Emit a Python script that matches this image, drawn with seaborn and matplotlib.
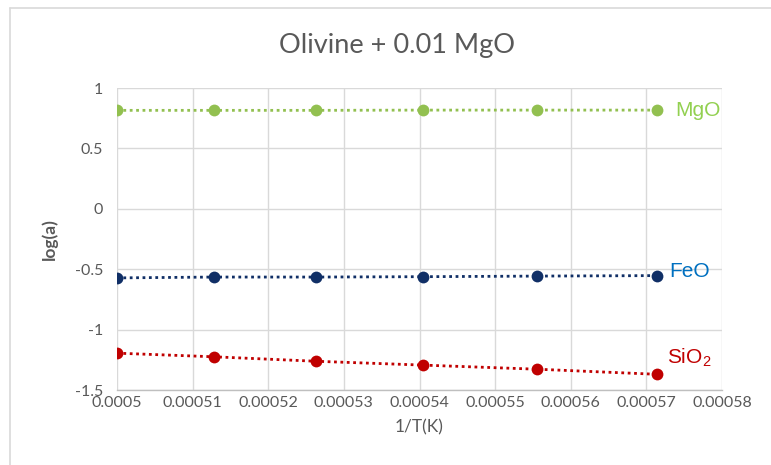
import matplotlib
matplotlib.use("Agg")
import matplotlib.pyplot as plt
import matplotlib.lines as mlines
import numpy as np
import pandas as pd
import seaborn as sns

# Inverse temperature (1/K) for 2000, 1950, 1900, 1850, 1800, 1750 K
inv_T = [0.0005, 0.0005128, 0.0005263, 0.0005405, 0.0005556, 0.0005714]

# log activities of the oxide components
mgo = [0.815, 0.815, 0.815, 0.817, 0.817, 0.817]
feo = [-0.572, -0.565, -0.565, -0.562, -0.557, -0.553]
sio2 = [-1.195, -1.225, -1.262, -1.294, -1.328, -1.370]

species = ["MgO", "FeO", "SiO2"]
series = {"MgO": mgo, "FeO": feo, "SiO2": sio2}
marker_colors = {"MgO": "#92C050", "FeO": "#102F66", "SiO2": "#C00000"}
label_colors = {"MgO": "#92D050", "FeO": "#0070C0", "SiO2": "#C00000"}
label_text = {"MgO": "MgO", "FeO": "FeO", "SiO2": r"SiO$_{\mathregular{2}}$"}
label_offsets = {"MgO": (13, 0), "FeO": (9, 3), "SiO2": (7, 12)}

x_ticks = [0.0005, 0.00051, 0.00052, 0.00053, 0.00054, 0.00055, 0.00056, 0.00057, 0.00058]
x_tick_labels = ["0.0005", "0.00051", "0.00052", "0.00053", "0.00054",
                 "0.00055", "0.00056", "0.00057", "0.00058"]
y_ticks = [-1.5, -1, -0.5, 0, 0.5, 1]
y_tick_labels = ["-1.5", "-1", "-0.5", "0", "0.5", "1"]

df = pd.DataFrame(
    [(x, v, s) for s in species for x, v in zip(inv_T, series[s])],
    columns=["invT", "loga", "species"],
)

sns.set_theme(style="whitegrid")
plt.rcParams["font.family"] = ["Lato", "DejaVu Sans"]
plt.rcParams["mathtext.fontset"] = "custom"
plt.rcParams["mathtext.rm"] = "Liberation Sans"

grey_text = "#595959"
grid_col = "#D9D9D9"

fig = plt.figure(figsize=(7.71, 4.65), dpi=100)
ax = fig.add_axes([117 / 771, 1 - 390 / 465, (722 - 117) / 771, (390 - 88) / 465])

for s in species:
    sns.lineplot(
        data=df[df["species"] == s], x="invT", y="loga", ax=ax,
        color=marker_colors[s], linestyle=(0, (1, 1.3)), linewidth=2.0,
        marker="o", markersize=8.5, markeredgewidth=0, markeredgecolor=marker_colors[s],
        errorbar=None, legend=False,
    )
    ax.annotate(
        label_text[s], xy=(inv_T[-1], series[s][-1]),
        xytext=label_offsets[s], textcoords="offset points",
        ha="left", va="center", fontsize=15, color=label_colors[s],
        family=["Liberation Sans", "DejaVu Sans"],
    )

ax.set_xlim(0.0005, 0.00058)
ax.set_ylim(-1.5, 1)
ax.set_xticks(x_ticks)
ax.set_xticklabels(x_tick_labels)
ax.set_yticks(y_ticks)
ax.set_yticklabels(y_tick_labels)
ax.tick_params(axis="both", labelsize=11.5, colors=grey_text, length=0)
ax.tick_params(axis="x", pad=4)
ax.tick_params(axis="y", pad=10)
ax.grid(True, color=grid_col, linewidth=1)
for sp in ax.spines.values():
    sp.set_visible(False)
ax.spines["bottom"].set_visible(True)
ax.spines["bottom"].set_color("#BFBFBF")
ax.spines["bottom"].set_linewidth(1)
ax.set_facecolor("white")

ax.set_xlabel("1/T(K)", fontsize=12.5, color=grey_text, labelpad=7)
ax.set_ylabel("log(a)", fontsize=12.5, color=grey_text, labelpad=12, fontweight="bold")

fig.text(397 / 771, 1 - 45 / 465, "Olivine + 0.01 MgO", ha="center", va="center",
         fontsize=19.5, color=grey_text)

# chart-area border (top and left edges)
fig.add_artist(mlines.Line2D([10 / 771, 10 / 771], [0, 1 - 8 / 465],
                             transform=fig.transFigure, color="#D9D9D9", linewidth=1.2))
fig.add_artist(mlines.Line2D([10 / 771, 1], [1 - 8 / 465, 1 - 8 / 465],
                             transform=fig.transFigure, color="#D9D9D9", linewidth=1.2))

fig.savefig("out.png", dpi=100, facecolor="white")
